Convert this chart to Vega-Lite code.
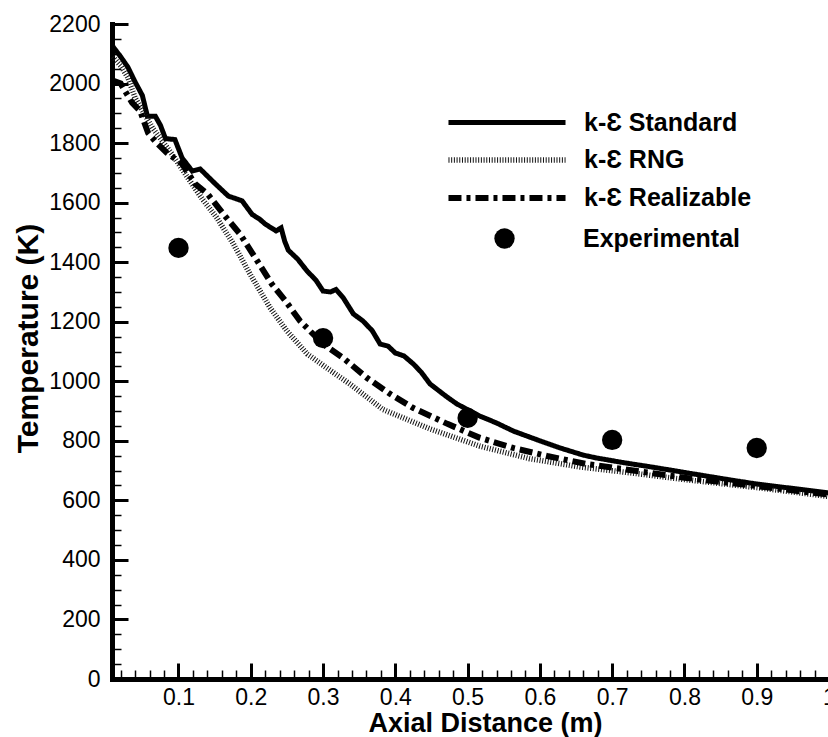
{
  "$schema": "https://vega.github.io/schema/vega-lite/v6.json",
  "width": 717,
  "height": 655,
  "autosize": "none",
  "padding": {"left": 112, "top": 24, "right": 0, "bottom": 58},
  "background": "white",
  "config": {
    "view": {"stroke": null},
    "font": "Liberation Sans",
    "axis": {"grid": false, "labelColor": "black", "titleColor": "black", "tickColor": "black", "domainColor": "black", "labelFlush": false, "labelOverlap": false}
  },
  "datasets": {
    "sim": [
      {"model": "k-Ɛ Standard", "x": 0.009, "T": 2125},
      {"model": "k-Ɛ Standard", "x": 0.02, "T": 2090},
      {"model": "k-Ɛ Standard", "x": 0.03, "T": 2055},
      {"model": "k-Ɛ Standard", "x": 0.04, "T": 2005},
      {"model": "k-Ɛ Standard", "x": 0.05, "T": 1960},
      {"model": "k-Ɛ Standard", "x": 0.057, "T": 1890},
      {"model": "k-Ɛ Standard", "x": 0.068, "T": 1890},
      {"model": "k-Ɛ Standard", "x": 0.075, "T": 1860},
      {"model": "k-Ɛ Standard", "x": 0.082, "T": 1815},
      {"model": "k-Ɛ Standard", "x": 0.095, "T": 1812},
      {"model": "k-Ɛ Standard", "x": 0.105, "T": 1750},
      {"model": "k-Ɛ Standard", "x": 0.119, "T": 1706},
      {"model": "k-Ɛ Standard", "x": 0.13, "T": 1713},
      {"model": "k-Ɛ Standard", "x": 0.151, "T": 1663},
      {"model": "k-Ɛ Standard", "x": 0.169, "T": 1622},
      {"model": "k-Ɛ Standard", "x": 0.188, "T": 1606},
      {"model": "k-Ɛ Standard", "x": 0.202, "T": 1560},
      {"model": "k-Ɛ Standard", "x": 0.212, "T": 1545},
      {"model": "k-Ɛ Standard", "x": 0.22, "T": 1528},
      {"model": "k-Ɛ Standard", "x": 0.235, "T": 1505},
      {"model": "k-Ɛ Standard", "x": 0.242, "T": 1515},
      {"model": "k-Ɛ Standard", "x": 0.247, "T": 1470},
      {"model": "k-Ɛ Standard", "x": 0.252, "T": 1440},
      {"model": "k-Ɛ Standard", "x": 0.265, "T": 1410},
      {"model": "k-Ɛ Standard", "x": 0.278, "T": 1370},
      {"model": "k-Ɛ Standard", "x": 0.29, "T": 1340},
      {"model": "k-Ɛ Standard", "x": 0.3, "T": 1303},
      {"model": "k-Ɛ Standard", "x": 0.31, "T": 1300},
      {"model": "k-Ɛ Standard", "x": 0.318, "T": 1308},
      {"model": "k-Ɛ Standard", "x": 0.328, "T": 1280},
      {"model": "k-Ɛ Standard", "x": 0.342, "T": 1226},
      {"model": "k-Ɛ Standard", "x": 0.355, "T": 1203},
      {"model": "k-Ɛ Standard", "x": 0.368, "T": 1170},
      {"model": "k-Ɛ Standard", "x": 0.379, "T": 1125},
      {"model": "k-Ɛ Standard", "x": 0.39, "T": 1118},
      {"model": "k-Ɛ Standard", "x": 0.4, "T": 1095},
      {"model": "k-Ɛ Standard", "x": 0.412, "T": 1085},
      {"model": "k-Ɛ Standard", "x": 0.425, "T": 1058},
      {"model": "k-Ɛ Standard", "x": 0.436, "T": 1030},
      {"model": "k-Ɛ Standard", "x": 0.448, "T": 991},
      {"model": "k-Ɛ Standard", "x": 0.47, "T": 950},
      {"model": "k-Ɛ Standard", "x": 0.485, "T": 924},
      {"model": "k-Ɛ Standard", "x": 0.517, "T": 883},
      {"model": "k-Ɛ Standard", "x": 0.54, "T": 860},
      {"model": "k-Ɛ Standard", "x": 0.563, "T": 833},
      {"model": "k-Ɛ Standard", "x": 0.6, "T": 800},
      {"model": "k-Ɛ Standard", "x": 0.628, "T": 776},
      {"model": "k-Ɛ Standard", "x": 0.66, "T": 752},
      {"model": "k-Ɛ Standard", "x": 0.679, "T": 742},
      {"model": "k-Ɛ Standard", "x": 0.72, "T": 725},
      {"model": "k-Ɛ Standard", "x": 0.76, "T": 710},
      {"model": "k-Ɛ Standard", "x": 0.822, "T": 685},
      {"model": "k-Ɛ Standard", "x": 0.86, "T": 670},
      {"model": "k-Ɛ Standard", "x": 0.9, "T": 655},
      {"model": "k-Ɛ Standard", "x": 0.95, "T": 640},
      {"model": "k-Ɛ Standard", "x": 1.0, "T": 625},
      {"model": "k-Ɛ RNG", "x": 0.009, "T": 2090},
      {"model": "k-Ɛ RNG", "x": 0.02, "T": 2060},
      {"model": "k-Ɛ RNG", "x": 0.03, "T": 2020},
      {"model": "k-Ɛ RNG", "x": 0.04, "T": 1952},
      {"model": "k-Ɛ RNG", "x": 0.064, "T": 1851},
      {"model": "k-Ɛ RNG", "x": 0.091, "T": 1763},
      {"model": "k-Ɛ RNG", "x": 0.113, "T": 1683},
      {"model": "k-Ɛ RNG", "x": 0.133, "T": 1612},
      {"model": "k-Ɛ RNG", "x": 0.153, "T": 1549},
      {"model": "k-Ɛ RNG", "x": 0.176, "T": 1461},
      {"model": "k-Ɛ RNG", "x": 0.199, "T": 1360},
      {"model": "k-Ɛ RNG", "x": 0.227, "T": 1246},
      {"model": "k-Ɛ RNG", "x": 0.25, "T": 1169},
      {"model": "k-Ɛ RNG", "x": 0.278, "T": 1092},
      {"model": "k-Ɛ RNG", "x": 0.305, "T": 1045},
      {"model": "k-Ɛ RNG", "x": 0.337, "T": 991},
      {"model": "k-Ɛ RNG", "x": 0.383, "T": 905},
      {"model": "k-Ɛ RNG", "x": 0.448, "T": 840},
      {"model": "k-Ɛ RNG", "x": 0.517, "T": 782},
      {"model": "k-Ɛ RNG", "x": 0.586, "T": 740},
      {"model": "k-Ɛ RNG", "x": 0.656, "T": 712},
      {"model": "k-Ɛ RNG", "x": 0.72, "T": 694},
      {"model": "k-Ɛ RNG", "x": 0.8, "T": 670},
      {"model": "k-Ɛ RNG", "x": 0.9, "T": 643},
      {"model": "k-Ɛ RNG", "x": 1.0, "T": 613},
      {"model": "k-Ɛ Realizable", "x": 0.009, "T": 2010},
      {"model": "k-Ɛ Realizable", "x": 0.02, "T": 2000},
      {"model": "k-Ɛ Realizable", "x": 0.026, "T": 1975},
      {"model": "k-Ɛ Realizable", "x": 0.036, "T": 1935},
      {"model": "k-Ɛ Realizable", "x": 0.047, "T": 1908},
      {"model": "k-Ɛ Realizable", "x": 0.058, "T": 1834},
      {"model": "k-Ɛ Realizable", "x": 0.07, "T": 1800},
      {"model": "k-Ɛ Realizable", "x": 0.084, "T": 1767},
      {"model": "k-Ɛ Realizable", "x": 0.105, "T": 1730},
      {"model": "k-Ɛ Realizable", "x": 0.123, "T": 1663},
      {"model": "k-Ɛ Realizable", "x": 0.14, "T": 1630},
      {"model": "k-Ɛ Realizable", "x": 0.162, "T": 1562},
      {"model": "k-Ɛ Realizable", "x": 0.185, "T": 1495},
      {"model": "k-Ɛ Realizable", "x": 0.209, "T": 1404},
      {"model": "k-Ɛ Realizable", "x": 0.229, "T": 1327},
      {"model": "k-Ɛ Realizable", "x": 0.248, "T": 1270},
      {"model": "k-Ɛ Realizable", "x": 0.268, "T": 1203},
      {"model": "k-Ɛ Realizable", "x": 0.3, "T": 1125},
      {"model": "k-Ɛ Realizable", "x": 0.328, "T": 1078},
      {"model": "k-Ɛ Realizable", "x": 0.361, "T": 1011},
      {"model": "k-Ɛ Realizable", "x": 0.393, "T": 957},
      {"model": "k-Ɛ Realizable", "x": 0.425, "T": 910},
      {"model": "k-Ɛ Realizable", "x": 0.472, "T": 857},
      {"model": "k-Ɛ Realizable", "x": 0.517, "T": 810},
      {"model": "k-Ɛ Realizable", "x": 0.563, "T": 776},
      {"model": "k-Ɛ Realizable", "x": 0.61, "T": 749},
      {"model": "k-Ɛ Realizable", "x": 0.665, "T": 722},
      {"model": "k-Ɛ Realizable", "x": 0.715, "T": 705},
      {"model": "k-Ɛ Realizable", "x": 0.8, "T": 676},
      {"model": "k-Ɛ Realizable", "x": 0.9, "T": 648},
      {"model": "k-Ɛ Realizable", "x": 1.0, "T": 619}
    ],
    "exp": [
      {"series": "Experimental", "x": 0.1, "T": 1448},
      {"series": "Experimental", "x": 0.3, "T": 1145},
      {"series": "Experimental", "x": 0.5, "T": 877},
      {"series": "Experimental", "x": 0.7, "T": 803},
      {"series": "Experimental", "x": 0.9, "T": 776}
    ]
  },
  "layer": [
    {
      "data": {"name": "sim"},
      "mark": {"type": "line", "strokeJoin": "miter", "strokeCap": "butt"},
      "encoding": {
        "x": {
          "field": "x", "type": "quantitative",
          "scale": {"domain": [0.008, 1.0], "nice": false, "zero": false},
          "axis": {
            "orient": "bottom",
            "values": [0.1, 0.2, 0.3, 0.4, 0.5, 0.6, 0.7, 0.8, 0.9, 1.0],
            "format": "~g",
            "tickSize": -16, "tickWidth": 3,
            "domainWidth": 5, "domainCap": "square",
            "labelFontSize": 23, "labelPadding": 23,
            "title": "Axial Distance (m)", "titleFontSize": 27, "titleFontWeight": "bold",
            "titleX": 373, "titleY": 44, "titleBaseline": "middle"
          }
        },
        "y": {
          "field": "T", "type": "quantitative",
          "scale": {"domain": [0, 2200], "nice": false},
          "axis": {
            "orient": "left",
            "values": [0, 200, 400, 600, 800, 1000, 1200, 1400, 1600, 1800, 2000, 2200],
            "format": "d",
            "tickSize": -16, "tickWidth": 3,
            "domainWidth": 5, "domainCap": "square",
            "labelFontSize": 23, "labelPadding": 28,
            "title": "Temperature (K)", "titleFontSize": 30, "titleFontWeight": "bold",
            "titleX": -84, "titleY": 314, "titleBaseline": "middle", "titleAngle": -90
          }
        },
        "color": {
          "field": "model", "type": "nominal",
          "scale": {"domain": ["k-Ɛ Standard", "k-Ɛ RNG", "k-Ɛ Realizable"], "range": ["black", "#111111", "black"]},
          "legend": {
            "orient": "none", "legendX": 380, "legendY": 84,
            "title": null, "padding": 0,
            "symbolType": "M-5,0H5", "symbolSize": 548,
            "labelFontSize": 25, "labelFontWeight": "bold", "labelColor": "black", "labelLimit": 400,
            "labelOffset": 62, "rowPadding": 9.5
          }
        },
        "strokeDash": {
          "field": "model", "type": "nominal",
          "scale": {"domain": ["k-Ɛ Standard", "k-Ɛ RNG", "k-Ɛ Realizable"], "range": [[1, 0], [1, 1.7], [13, 5, 4, 5]]}
        },
        "strokeWidth": {
          "field": "model", "type": "nominal",
          "scale": {"domain": ["k-Ɛ Standard", "k-Ɛ RNG", "k-Ɛ Realizable"], "range": [5, 6, 5]}
        }
      }
    },
    {
      "data": {"name": "exp"},
      "mark": {"type": "point", "filled": true, "color": "black", "opacity": 1, "size": 415},
      "encoding": {
        "x": {
          "field": "x", "type": "quantitative",
          "axis": {
            "orient": "bottom",
            "values": [0.02, 0.04, 0.06, 0.08, 0.12, 0.14, 0.16, 0.18, 0.22, 0.24, 0.26, 0.28, 0.32, 0.34, 0.36, 0.38, 0.42, 0.44, 0.46, 0.48, 0.52, 0.54, 0.56, 0.58, 0.62, 0.64, 0.66, 0.68, 0.72, 0.74, 0.76, 0.78, 0.82, 0.84, 0.86, 0.88, 0.92, 0.94, 0.96, 0.98],
            "tickSize": -9, "tickWidth": 1.5, "domain": false, "labels": false, "title": null
          }
        },
        "y": {
          "field": "T", "type": "quantitative",
          "axis": {
            "orient": "left",
            "values": [50, 100, 150, 250, 300, 350, 450, 500, 550, 650, 700, 750, 850, 900, 950, 1050, 1100, 1150, 1250, 1300, 1350, 1450, 1500, 1550, 1650, 1700, 1750, 1850, 1900, 1950, 2050, 2100, 2150],
            "tickSize": -9, "tickWidth": 1.5, "domain": false, "labels": false, "title": null
          }
        },
        "shape": {
          "field": "series", "type": "nominal",
          "scale": {"domain": ["Experimental"], "range": ["circle"]},
          "legend": {
            "orient": "none", "legendX": 380, "legendY": 202,
            "title": null, "padding": 0,
            "symbolSize": 415, "symbolFillColor": "black", "symbolStrokeColor": "black", "symbolOpacity": 1,
            "labelFontSize": 25, "labelFontWeight": "bold", "labelColor": "black", "labelLimit": 400,
            "labelOffset": 66
          }
        }
      }
    },
    {
      "mark": {"type": "rule", "color": "black", "strokeWidth": 5, "strokeCap": "square"},
      "encoding": {
        "y": {"datum": 2200, "type": "quantitative", "axis": null}
      }
    }
  ],
  "resolve": {"axis": {"x": "independent", "y": "independent"}}
}
